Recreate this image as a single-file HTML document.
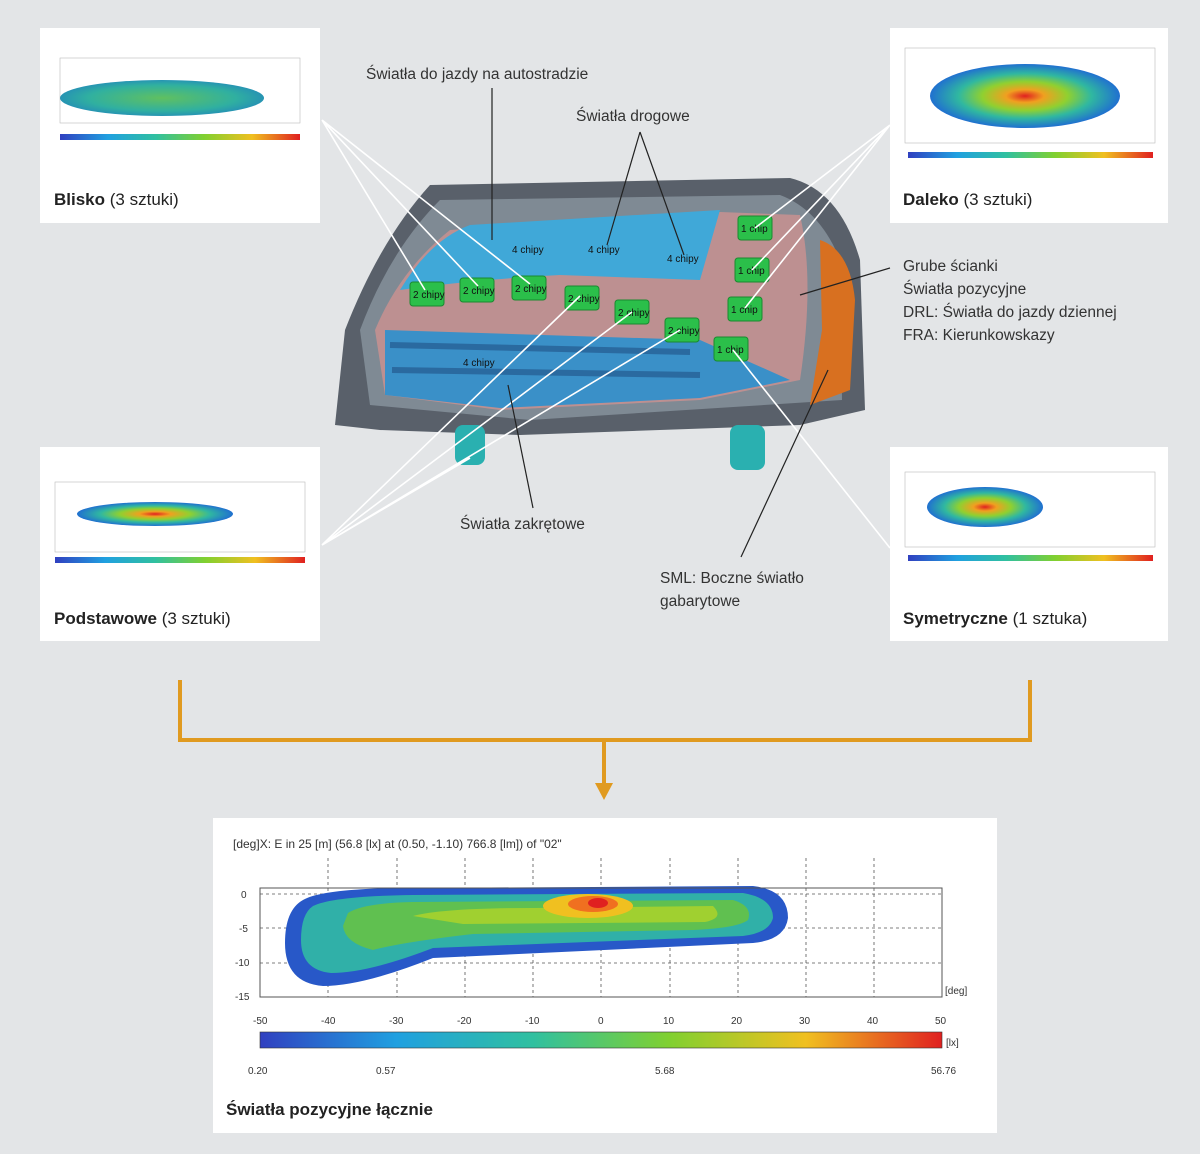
<!DOCTYPE html>
<html><head><meta charset="utf-8"><style>
body{margin:0;width:1200px;height:1154px;background:#e3e5e7;position:relative;overflow:hidden;font-family:"Liberation Sans","DejaVu Sans",sans-serif;}
.p{position:absolute;background:#fff;}
.cap{position:absolute;font-size:17px;color:#222;}
.lbl{position:absolute;font-size:15.5px;color:#333;line-height:23px;}
</style></head><body>
<svg width="1200" height="1154" style="position:absolute;left:0;top:0">
<defs>
<linearGradient id="hm" x1="0" x2="1"><stop offset="0" stop-color="#3040c0"/><stop offset=".2" stop-color="#20a0e0"/><stop offset=".4" stop-color="#30c0a0"/><stop offset=".6" stop-color="#80d030"/><stop offset=".8" stop-color="#f0c020"/><stop offset="1" stop-color="#e02020"/></linearGradient>
<radialGradient id="blob"><stop offset="0" stop-color="#e02020"/><stop offset=".2" stop-color="#f0a020"/><stop offset=".45" stop-color="#90d030"/><stop offset=".7" stop-color="#30b8a0"/><stop offset="1" stop-color="#2070d0"/></radialGradient>
<radialGradient id="blob2" cx=".5" cy=".5" r=".6"><stop offset="0" stop-color="#60c060"/><stop offset=".6" stop-color="#30b0a0"/><stop offset="1" stop-color="#2080c0"/></radialGradient>
</defs>
</svg>
<div class="p" style="left:40px;top:28px;width:280px;height:195px">
<svg width="280" height="195"><rect x="20" y="30" width="240" height="65" fill="none" stroke="#bbb" stroke-width=".6"/><ellipse cx="122" cy="70" rx="102" ry="18" fill="url(#blob2)"/><rect x="20" y="106" width="240" height="6" fill="url(#hm)"/></svg>
<div class="cap" style="left:14px;top:162px"><b>Blisko</b> (3 sztuki)</div></div>
<div class="p" style="left:890px;top:28px;width:278px;height:195px">
<svg width="278" height="195"><rect x="15" y="20" width="250" height="95" fill="none" stroke="#bbb" stroke-width=".6"/><ellipse cx="135" cy="68" rx="95" ry="32" fill="url(#blob)"/><rect x="18" y="124" width="245" height="6" fill="url(#hm)"/></svg>
<div class="cap" style="left:13px;top:162px"><b>Daleko</b> (3 sztuki)</div></div>
<div class="p" style="left:40px;top:447px;width:280px;height:194px">
<svg width="280" height="194"><rect x="15" y="35" width="250" height="70" fill="none" stroke="#bbb" stroke-width=".6"/><ellipse cx="115" cy="67" rx="78" ry="12" fill="url(#blob)"/><rect x="15" y="110" width="250" height="6" fill="url(#hm)"/></svg>
<div class="cap" style="left:14px;top:162px"><b>Podstawowe</b> (3 sztuki)</div></div>
<div class="p" style="left:890px;top:447px;width:278px;height:194px">
<svg width="278" height="194"><rect x="15" y="25" width="250" height="75" fill="none" stroke="#bbb" stroke-width=".6"/><ellipse cx="95" cy="60" rx="58" ry="20" fill="url(#blob)"/><rect x="18" y="108" width="245" height="6" fill="url(#hm)"/></svg>
<div class="cap" style="left:13px;top:162px"><b>Symetryczne</b> (1 sztuka)</div></div>
<div class="p" style="left:213px;top:818px;width:784px;height:315px">
<svg width="784" height="315">
<text x="20" y="30" font-size="12" fill="#333" font-family="Liberation Sans">[deg]X: E in 25 [m] (56.8 [lx] at (0.50, -1.10) 766.8 [lm]) of "02"</text>
<g stroke="#555" stroke-dasharray="3,3" stroke-width=".8"><line x1="115" y1="40" x2="115" y2="179"/><line x1="184" y1="40" x2="184" y2="179"/><line x1="252" y1="40" x2="252" y2="179"/><line x1="320" y1="40" x2="320" y2="179"/><line x1="388" y1="40" x2="388" y2="179"/><line x1="457" y1="40" x2="457" y2="179"/><line x1="525" y1="40" x2="525" y2="179"/><line x1="593" y1="40" x2="593" y2="179"/><line x1="661" y1="40" x2="661" y2="179"/><line x1="47" y1="76" x2="729" y2="76"/><line x1="47" y1="110" x2="729" y2="110"/><line x1="47" y1="145" x2="729" y2="145"/></g>
<path d="M90 82 Q110 70 200 70 L540 68 Q575 72 575 100 Q572 122 540 125 L220 140 Q150 168 110 168 Q72 165 72 125 Q72 92 90 82Z" fill="#2858c8"/>
<path d="M100 88 Q120 78 200 77 L530 75 Q560 80 560 100 Q556 115 530 118 L220 130 Q155 155 118 155 Q88 152 88 122 Q88 96 100 88Z" fill="#30b0a8"/>
<path d="M135 95 Q150 85 200 84 L520 82 Q540 88 535 102 Q525 110 480 112 L260 116 Q190 124 160 132 Q132 125 130 108 Z" fill="#60c050"/>
<path d="M200 98 Q230 90 320 90 L500 88 Q512 100 492 104 L250 106Z" fill="#a0d030"/>
<ellipse cx="375" cy="88" rx="45" ry="12" fill="#f0c020"/><ellipse cx="380" cy="86" rx="25" ry="8" fill="#f07020"/><ellipse cx="385" cy="85" rx="10" ry="5" fill="#e02020"/>
<rect x="47" y="70" width="682" height="109" fill="none" stroke="#555"/>
<g font-size="10" fill="#333" font-family="Liberation Sans"><text x="28" y="80">0</text><text x="26" y="114">-5</text><text x="22" y="148">-10</text><text x="22" y="182">-15</text><text x="732" y="176">[deg]</text>
<text x="40" y="206">-50</text><text x="108" y="206">-40</text><text x="176" y="206">-30</text><text x="244" y="206">-20</text><text x="312" y="206">-10</text><text x="385" y="206">0</text><text x="450" y="206">10</text><text x="518" y="206">20</text><text x="586" y="206">30</text><text x="654" y="206">40</text><text x="722" y="206">50</text>
<text x="35" y="256">0.20</text><text x="163" y="256">0.57</text><text x="442" y="256">5.68</text><text x="718" y="256">56.76</text><text x="733" y="228">[lx]</text></g>
<rect x="47" y="214" width="682" height="16" fill="url(#hm)" stroke="#333" stroke-width=".6"/>
</svg>
<div class="cap" style="left:13px;top:282px;font-weight:bold">Światła pozycyjne łącznie</div></div>
<svg width="1200" height="1154" style="position:absolute;left:0;top:0">
<path d="M335 425 L345 330 Q380 240 430 185 L790 178 Q840 190 860 260 L865 410 L800 425 L520 435 L380 430 Z" fill="#59606a"/>
<path d="M360 330 Q390 250 440 200 L780 195 Q820 210 840 260 L842 400 L530 420 L370 405 Z" fill="#7f8a94"/>
<path d="M375 330 Q400 270 450 230 L720 212 L800 215 Q815 280 800 380 L700 400 L500 410 L385 395 Z" fill="#c89090" opacity=".85"/>
<path d="M400 290 Q430 240 470 225 L720 210 L700 280 L560 275 Q470 280 400 290Z" fill="#40a8d8"/>
<path d="M385 330 L700 340 L790 380 L700 398 L500 408 L385 395Z" fill="#3a90c8"/>
<path d="M390 345 L690 352 M392 370 L700 375" stroke="#2a6aa0" stroke-width="6" fill="none"/>
<path d="M820 240 Q850 250 855 300 L850 390 L810 405 L822 330 Z" fill="#d87020"/>
<rect x="455" y="425" width="30" height="40" rx="8" fill="#2ab0b0"/><rect x="730" y="425" width="35" height="45" rx="8" fill="#2ab0b0"/>
<g fill="#2bbf4a" stroke="#1a8a30"><rect x="410" y="282" width="34" height="24" rx="3"/><rect x="460" y="278" width="34" height="24" rx="3"/><rect x="512" y="276" width="34" height="24" rx="3"/><rect x="565" y="286" width="34" height="24" rx="3"/><rect x="615" y="300" width="34" height="24" rx="3"/><rect x="665" y="318" width="34" height="24" rx="3"/><rect x="738" y="216" width="34" height="24" rx="3"/><rect x="735" y="258" width="34" height="24" rx="3"/><rect x="728" y="297" width="34" height="24" rx="3"/><rect x="714" y="337" width="34" height="24" rx="3"/></g>
<g font-size="10" fill="#111" font-family="Liberation Sans"><text x="413" y="298">2 chipy</text><text x="463" y="294">2 chipy</text><text x="515" y="292">2 chipy</text><text x="568" y="302">2 chipy</text><text x="618" y="316">2 chipy</text><text x="668" y="334">2 chipy</text><text x="741" y="232">1 chip</text><text x="738" y="274">1 chip</text><text x="731" y="313">1 chip</text><text x="717" y="353">1 chip</text><text x="512" y="253">4 chipy</text><text x="588" y="253">4 chipy</text><text x="667" y="262">4 chipy</text><text x="463" y="366">4 chipy</text></g>
<g stroke="#fff" stroke-width="1.6" fill="none"><path d="M322 120 L425 290 M322 120 L478 286 M322 120 L530 284"/><path d="M322 545 L580 296 M322 545 L632 312 M322 545 L680 330 M322 545 L470 458"/><path d="M890 125 L755 228 M890 125 L752 270 M890 125 L745 308"/><path d="M890 548 L733 350"/></g>
<g stroke="#222" stroke-width="1.2" fill="none"><path d="M492 88 L492 240"/><path d="M640 132 L607 245 M640 132 L684 255"/><path d="M533 508 L508 385"/><path d="M741 557 L828 370"/><path d="M890 268 L800 295"/></g>
<g stroke="#e09a20" stroke-width="4" fill="none"><path d="M180 680 V740 H1030 V680"/><path d="M604 740 V785"/></g>
<path d="M595 783 L613 783 L604 800 Z" fill="#e09a20"/>
</svg>
<div class="lbl" style="left:366px;top:63px">Światła do jazdy na autostradzie</div>
<div class="lbl" style="left:576px;top:105px">Światła drogowe</div>
<div class="lbl" style="left:460px;top:513px">Światła zakrętowe</div>
<div class="lbl" style="left:660px;top:567px">SML: Boczne światło<br>gabarytowe</div>
<div class="lbl" style="left:903px;top:255px">Grube ścianki<br>Światła pozycyjne<br>DRL: Światła do jazdy dziennej<br>FRA: Kierunkowskazy</div>
</body></html>
